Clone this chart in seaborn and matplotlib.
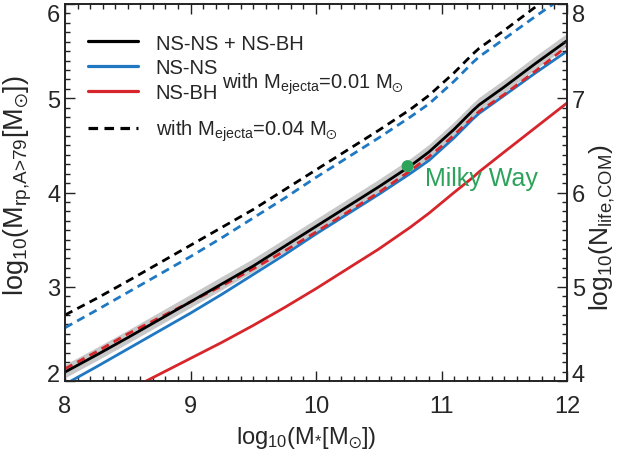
import matplotlib
matplotlib.use("Agg")
import matplotlib.pyplot as plt
import seaborn as sns
import numpy as np
from matplotlib.lines import Line2D
from matplotlib.ticker import MultipleLocator

# ---------------- data ----------------
log_mstar = [8.0, 8.25, 8.5, 8.75, 9.0, 9.25, 9.5, 9.75, 10.0, 10.25, 10.5,
             10.75, 10.9, 11.0, 11.1, 11.25, 11.3, 11.5, 11.75, 12.0]

total_001 = [2.095, 2.275, 2.46, 2.65, 2.84, 3.03, 3.22, 3.43, 3.64, 3.85, 4.06,
             4.28, 4.43, 4.55, 4.67, 4.87, 4.93, 5.12, 5.37, 5.61]
nsns_001 = [1.965, 2.15, 2.34, 2.53, 2.72, 2.92, 3.13, 3.34, 3.56, 3.77, 3.98,
            4.20, 4.34, 4.46, 4.58, 4.78, 4.84, 5.03, 5.27, 5.50]
nsbh_001 = [1.53, 1.71, 1.90, 2.07, 2.24, 2.41, 2.59, 2.78, 2.98, 3.19, 3.40,
            3.63, 3.78, 3.89, 4.00, 4.16, 4.22, 4.43, 4.69, 4.95]

total_004 = [2.70, 2.875, 3.06, 3.25, 3.44, 3.63, 3.82, 4.03, 4.24, 4.45, 4.66,
             4.88, 5.03, 5.15, 5.27, 5.47, 5.53, 5.72, 5.97, 6.21]
nsns_004 = [2.565, 2.75, 2.94, 3.13, 3.32, 3.52, 3.73, 3.94, 4.16, 4.37, 4.58,
            4.80, 4.94, 5.06, 5.18, 5.38, 5.44, 5.63, 5.87, 6.10]
nsbh_004 = [2.13, 2.31, 2.50, 2.67, 2.84, 3.01, 3.19, 3.38, 3.58, 3.79, 4.00,
            4.23, 4.38, 4.49, 4.61, 4.80, 4.86, 5.04, 5.29, 5.55]

band_hi = [2.175, 2.355, 2.54, 2.73, 2.92, 3.11, 3.30, 3.51, 3.72, 3.93, 4.14,
           4.36, 4.51, 4.63, 4.75, 4.95, 5.01, 5.20, 5.45, 5.69]
band_lo = [2.035, 2.215, 2.40, 2.59, 2.78, 2.97, 3.16, 3.37, 3.58, 3.79, 4.00,
           4.22, 4.37, 4.49, 4.61, 4.81, 4.87, 5.06, 5.31, 5.55]

mw_x = [10.73]
mw_y = [4.28]

# ---------------- style ----------------
sns.set_theme(style="ticks")
plt.rcParams["font.family"] = ["Liberation Sans", "DejaVu Sans"]
plt.rcParams["mathtext.default"] = "regular"
plt.rcParams["mathtext.fontset"] = "custom"
plt.rcParams["mathtext.rm"] = "Liberation Sans"
plt.rcParams["mathtext.it"] = "Liberation Sans"

BLACK = "#000000"
BLUE = "#1f78c1"
RED = "#d7262b"
GREEN = "#2ca25a"
GRAY = "#c8c8c8"

fig = plt.figure(figsize=(6.2, 4.56), dpi=100)
ax = fig.add_axes([65 / 620, (456 - 382) / 456, 502 / 620, 377 / 456])

lw = 2.0
dash = (0, (3, 2))
ax.fill_between(log_mstar, band_lo, band_hi, color=GRAY, lw=0, zorder=1)

sns.lineplot(x=log_mstar, y=nsbh_001, color=RED, lw=lw, ax=ax, zorder=3)
sns.lineplot(x=log_mstar, y=nsns_001, color=BLUE, lw=lw, ax=ax, zorder=3)
sns.lineplot(x=log_mstar, y=nsns_004, color=BLUE, lw=lw, ax=ax, zorder=3, linestyle=dash)
sns.lineplot(x=log_mstar, y=total_004, color=BLACK, lw=lw, ax=ax, zorder=3, linestyle=dash)
sns.lineplot(x=log_mstar, y=nsbh_004, color=RED, lw=lw, ax=ax, zorder=4, linestyle=dash)
sns.lineplot(x=log_mstar, y=total_001, color=BLACK, lw=lw, ax=ax, zorder=5)

sns.scatterplot(x=mw_x, y=mw_y, color=GREEN, s=75, edgecolor="none", ax=ax, zorder=6)
ax.text(10.87, 4.08, "Milky Way", color=GREEN, fontsize=18, va="baseline", ha="left")

ax.set_xlim(8, 12)
ax.set_ylim(2, 6)
ax.xaxis.set_major_locator(MultipleLocator(1))
ax.xaxis.set_minor_locator(MultipleLocator(0.1))
ax.yaxis.set_major_locator(MultipleLocator(1))
ax.yaxis.set_minor_locator(MultipleLocator(0.1))
ax.tick_params(which="both", direction="in", top=True, right=False, width=1.0,
               color="#222222", labelsize=17)
ax.tick_params(which="major", length=7.2)
ax.tick_params(which="minor", length=3.6)
ax.tick_params(axis="x", which="major", pad=10)

ax.set_xlabel(r"log$_{10}$(M$_{*}$[M$_{\odot}$])", fontsize=17)
ax.xaxis.set_label_coords(0.48, -0.115)
ax.set_ylabel(r"log$_{10}$(M$_{\text{rp,A>79}}$[M$_{\odot}$])", fontsize=19.5)
ax.yaxis.set_label_coords(-0.062, 0.52)

ax2 = ax.twinx()
ax2.set_ylim(4, 8)
ax2.yaxis.set_major_locator(MultipleLocator(1))
ax2.yaxis.set_minor_locator(MultipleLocator(0.1))
ax2.tick_params(which="both", direction="in", width=1.0, color="#222222", labelsize=17)
ax2.tick_params(which="major", length=7.2)
ax2.tick_params(which="minor", length=3.6)
ax2.set_ylabel(r"log$_{10}$(N$_{\text{life,COM}}$)", fontsize=19)
ax2.yaxis.set_label_coords(1.042, 0.41)

for a in (ax, ax2):
    for s in a.spines.values():
        s.set_visible(True)
        s.set_linewidth(1.2)
        s.set_color("#222222")

fig.canvas.draw()
for a, top, bot in ((ax, 6, 2), (ax2, 8, 4)):
    for t in a.yaxis.get_major_ticks():
        if abs(t.get_loc() - top) < 1e-6:
            t.label1.set_va("top")
            t.label2.set_va("top")
        elif abs(t.get_loc() - bot) < 1e-6:
            t.label1.set_va("baseline")
            t.label2.set_va("baseline")

# legends
h1 = [Line2D([], [], color=BLACK, lw=2.3),
      Line2D([], [], color=BLUE, lw=2.3),
      Line2D([], [], color=RED, lw=2.3)]
leg1 = ax.legend(h1, ["NS-NS + NS-BH", "NS-NS", "NS-BH"], loc="upper left",
                 bbox_to_anchor=(0.03, 0.943), frameon=False, fontsize=14.5,
                 handlelength=2.5, handletextpad=0.85, labelspacing=0.28,
                 borderaxespad=0.0)
ax.add_artist(leg1)
h2 = [Line2D([], [], color=BLACK, lw=2.3, linestyle=dash)]
leg2 = ax.legend(h2, [r"with M$_{ejecta}$=0.04 M$_{\odot}$"], loc="upper left",
                 bbox_to_anchor=(0.03, 0.72), frameon=False, fontsize=14.5,
                 handlelength=2.5, handletextpad=0.85, borderaxespad=0.0)
ax.text(0.313, 0.789, r"with M$_{ejecta}$=0.01 M$_{\odot}$", transform=ax.transAxes,
        fontsize=14.5, va="center", ha="left")

fig.savefig("out.png", dpi=100)
